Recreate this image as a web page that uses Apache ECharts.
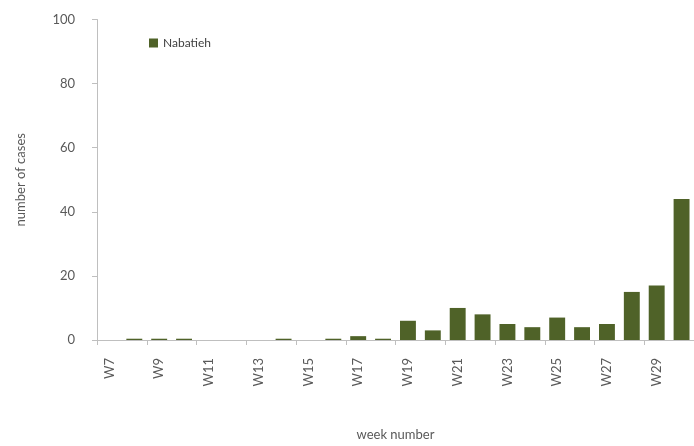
<!DOCTYPE html>
<html>
<head>
<meta charset="utf-8">
<script src="https://cdn.jsdelivr.net/npm/echarts@6/dist/echarts.min.js"></script>
<style>
html,body{margin:0;padding:0;background:#fff;}
#c{width:694px;height:446px;}
</style>
</head>
<body>
<div id="c"></div>
<script>
var categories = ['W7','W8','W9','W10','W11','W12','W13','W14','W15','W16','W17','W18','W19','W20','W21','W22','W23','W24','W25','W26','W27','W28','W29','W30'];
var nabatieh = [0,0.4,0.4,0.4,0,0,0,0.4,0,0.4,1.2,0.4,6,3,10,8,5,4,7,4,5,15,17,44];
var yTicks = [0,20,40,60,80,100];

var chart = echarts.init(document.getElementById('c'));
var font = 'Lato, "Open Sans", sans-serif';
chart.setOption({
  animation: false,
  textStyle: {fontFamily: font},
  legend: {
    data: ['Nabatieh'],
    left: 144, top: 32,
    icon: 'rect', itemWidth: 9, itemHeight: 9, itemGap: 6,
    textStyle: {fontFamily: font, fontSize: 12, color: '#404040'}
  },
  grid: {left: 97, top: 19.5, width: 600, height: 326.5, containLabel: false},
  xAxis: {
    type: 'category',
    data: categories,
    name: 'week number',
    nameLocation: 'middle',
    nameGap: 88,
    nameTextStyle: {fontFamily: font, fontSize: 13, color: '#595959'},
    axisLine: {lineStyle: {color: '#bfbfbf'}},
    axisTick: {show: true, length: 5, lineStyle: {color: '#bfbfbf'}},
    axisLabel: {interval: 1, rotate: 90, fontSize: 13, color: '#595959', margin: 18, fontFamily: font}
  },
  yAxis: {
    type: 'value',
    min: yTicks[0], max: yTicks[yTicks.length-1], interval: 20,
    name: 'number of cases',
    nameLocation: 'middle',
    nameGap: 70,
    nameTextStyle: {fontFamily: font, fontSize: 13, color: '#595959'},
    axisLine: {show: true, lineStyle: {color: '#bfbfbf'}},
    axisTick: {show: true, length: 5, lineStyle: {color: '#bfbfbf'}},
    splitLine: {show: false},
    axisLabel: {fontSize: 13, color: '#595959', margin: 22, fontFamily: font}
  },
  series: [{
    name: 'Nabatieh',
    type: 'bar',
    data: nabatieh,
    barCategoryGap: '36%',
    itemStyle: {color: '#4f6228'}
  }]
});
</script>
</body>
</html>
